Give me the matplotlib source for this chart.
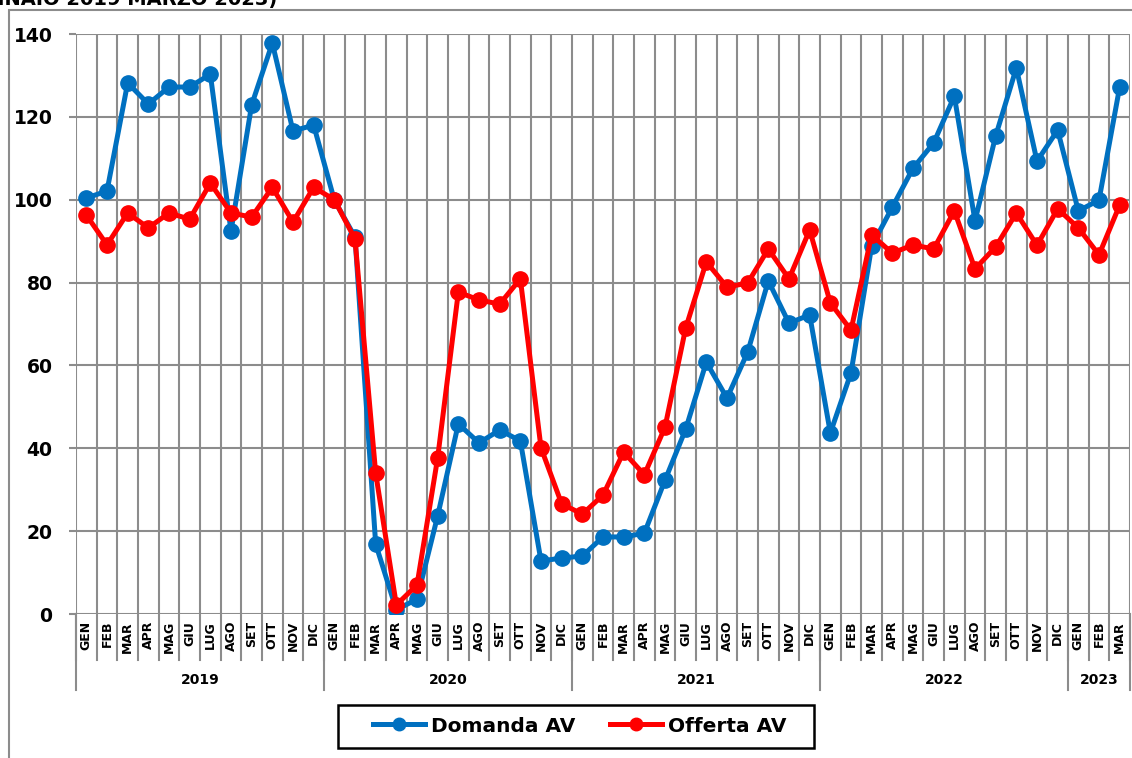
import numpy as np
import matplotlib.pyplot as plt
from matplotlib.patches import Rectangle
from matplotlib.lines import Line2D

mesi = ["GEN", "FEB", "MAR", "APR", "MAG", "GIU", "LUG", "AGO", "SET", "OTT", "NOV", "DIC"]
anni = ["2019", "2020", "2021", "2022", "2023"]
mesi_per_anno = [12, 12, 12, 12, 3]

domanda = [100.4, 102.1, 128.2, 123.1, 127.2, 127.2, 130.3, 92.4, 122.9, 137.8, 116.6, 118.0,
           99.9, 91.0, 16.9, 1.0, 3.6, 23.7, 45.9, 41.3, 44.4, 41.8, 12.8, 13.5,
           14.0, 18.6, 18.6, 19.5, 32.3, 44.6, 60.8, 52.1, 63.2, 80.4, 70.2, 72.2,
           43.7, 58.2, 88.8, 98.2, 107.6, 113.7, 125.0, 94.9, 115.4, 131.8, 109.3, 116.8,
           97.3, 99.9, 127.2]
offerta = [96.3, 89.1, 96.8, 93.2, 96.8, 95.3, 104.0, 96.8, 95.8, 103.0, 94.6, 103.0,
           100.0, 90.5, 34.0, 2.2, 7.0, 37.7, 77.7, 75.8, 74.8, 80.9, 40.1, 26.6,
           24.1, 28.7, 39.1, 33.6, 45.1, 69.0, 85.0, 78.9, 79.9, 88.1, 80.9, 92.7,
           75.1, 68.5, 91.5, 87.1, 89.1, 88.1, 97.3, 83.3, 88.6, 96.8, 89.0, 97.8,
           93.2, 86.7, 98.7]

etichette = []
for n in mesi_per_anno:
    etichette += mesi[:n]
x = np.arange(len(etichette))

BLU = "#0070C0"
ROSSO = "#FF0000"
GRIGIO = "#8C8C8C"
W, H = 1132, 758

fig = plt.figure(figsize=(W/100, H/100), dpi=100)
ax = fig.add_axes([76/W, 1 - 614/H, (1130 - 76)/W, 580/H])

# cornice esterna e titolo (tagliato in alto come nell'originale)
fig.patches.append(Rectangle((9/W, -0.01), 1.1, 1 - 10/H + 0.01, transform=fig.transFigure,
                             fill=False, edgecolor=GRIGIO, linewidth=1.5))
fig.text(277/W, 1 - 5/H, "(GENNAIO 2019 MARZO 2023)", ha="right",
         va="baseline", fontsize=14, fontweight="bold")

ax.set_xlim(-0.5, len(x) - 0.5)
ax.set_ylim(0, 140)
ax.set_yticks(range(0, 141, 20))
ax.set_xticks([])
ax.grid(axis="y", color=GRIGIO, linewidth=1.5)
for b in range(len(x) + 1):
    ax.axvline(b - 0.5, color=GRIGIO, linewidth=1.5, zorder=0.5)
for s in ax.spines.values():
    s.set_visible(False)
ax.tick_params(axis="y", length=5, width=1.5, color=GRIGIO, pad=12, labelsize=13.5)
for t in ax.get_yticklabels():
    t.set_fontweight("bold")

ax.plot(x, domanda, color=BLU, linewidth=3.6, marker="o", markersize=11, zorder=3)
ax.plot(x, offerta, color=ROSSO, linewidth=3.6, marker="o", markersize=11, zorder=4)

# etichette mesi e anni sotto l'asse
trans = ax.get_xaxis_transform()
for i, lab in enumerate(etichette):
    ax.text(i, -0.012, lab, rotation=90, ha="center", va="top", fontsize=9,
            fontweight="heavy", transform=trans)
for b in range(len(x) + 1):
    ax.plot([b - 0.5, b - 0.5], [0, -0.079], color=GRIGIO, linewidth=1.5,
            transform=trans, clip_on=False)
inizio = 0
for anno, n in zip(anni, mesi_per_anno):
    ax.plot([inizio - 0.5, inizio - 0.5], [0, -0.131], color=GRIGIO, linewidth=1.5,
            transform=trans, clip_on=False)
    ax.text(inizio + (n - 1) / 2, -0.114, anno, ha="center", va="center", fontsize=10,
            fontweight="bold", transform=trans)
    inizio += n
ax.plot([inizio - 0.5, inizio - 0.5], [0, -0.131], color=GRIGIO, linewidth=1.5,
        transform=trans, clip_on=False)

# legenda con riquadro disegnato a parte
fig.patches.append(Rectangle((338/W, 1 - 748/H), (814 - 338)/W, 43/H, transform=fig.transFigure,
                             fill=False, edgecolor="black", linewidth=1.8))
handles = [Line2D([], [], color=BLU, linewidth=3.6, marker="o", markersize=9),
           Line2D([], [], color=ROSSO, linewidth=3.6, marker="o", markersize=9)]
fig.legend(handles, ["Domanda AV", "Offerta AV"], loc="center",
           bbox_to_anchor=(580/W, 1 - 726/H), ncol=2, frameon=False,
           prop={"weight": "bold", "size": 14.5},
           handlelength=2.6, columnspacing=1.7, handletextpad=0.3)

fig.savefig("out.png", dpi=100)
